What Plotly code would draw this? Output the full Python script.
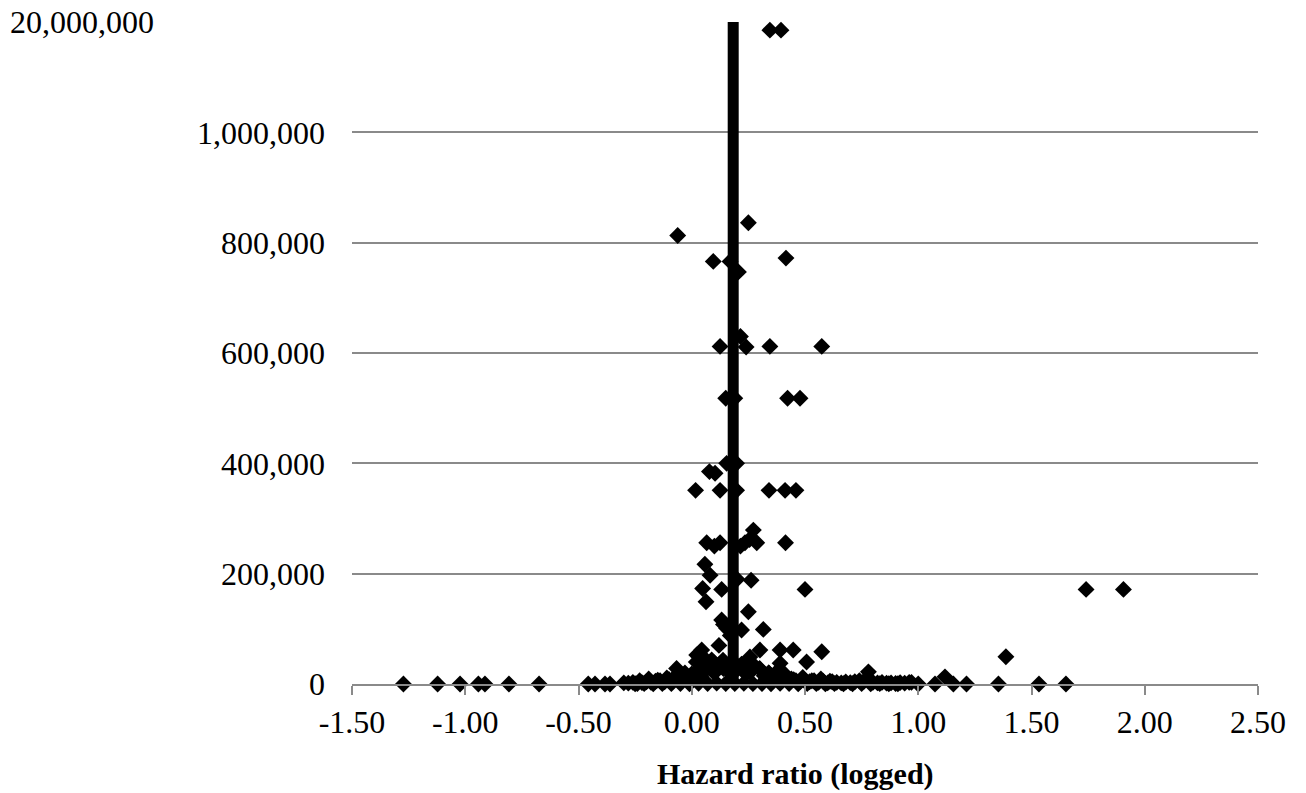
import plotly.graph_objects as go

# ---------------- data ----------------
# log hazard ratio of each estimate
hr_logged = [
    0.345, 0.394,
    -0.062, 0.250, 0.095, 0.169, 0.206, 0.416,
    0.125, 0.215, 0.240, 0.345, 0.574,
    0.150, 0.190, 0.423, 0.478,
    0.154, 0.198, 0.078, 0.103,
    0.017, 0.125, 0.198, 0.341, 0.412, 0.460,
    0.272, 0.255, 0.066, 0.100, 0.125, 0.235, 0.287, 0.414, 0.215,
    0.058, 0.081, 0.048, 0.132, 0.063, 0.262, 0.500, 0.200,
    0.250, 0.132, 0.154, 0.316, 0.220, 0.140,
    0.301, 0.390, 0.448, 0.574, 0.507, 0.390, 0.044, 0.022, 0.088, -0.067, 0.257, 0.138,
    1.741, 1.906, 1.387,
    -1.273, -1.122, -1.023, -0.942, -0.913, -0.807, -0.674, -0.457, -0.427, -0.383, -0.361,
    1.074, 1.118, 1.155, 1.213, 1.354, 1.533, 1.652, 0.780, 0.970, 1.000,
    -0.30, -0.28, -0.26, -0.24, -0.22, -0.20, -0.18, -0.16, -0.14, -0.12,
    -0.10, -0.08, -0.06, -0.04, -0.02, 0.00, 0.02, 0.04, 0.06, 0.08,
    0.10, 0.12, 0.14, 0.16, 0.20, 0.22, 0.24, 0.26, 0.28, 0.30,
    0.32, 0.34, 0.36, 0.38, 0.40, 0.42, 0.44, 0.46, 0.48, 0.50,
    0.52, 0.54, 0.56, 0.58, 0.60, 0.62, 0.64, 0.66, 0.68, 0.70,
    0.72, 0.74, 0.76, 0.80, 0.82, 0.84, 0.86, 0.88, 0.90, 0.92,
    0.94, 0.96,
    -0.25, -0.21, -0.17, -0.13, -0.09, -0.05, -0.01, 0.03, 0.07, 0.11,
    0.15, 0.19, 0.23, 0.27, 0.31, 0.35, 0.39, 0.43, 0.47, 0.51,
    0.55, 0.59, 0.63, 0.67, 0.71, 0.75, 0.79, 0.83, 0.87, 0.91,
    0.02, 0.06, 0.10, 0.14, 0.18, 0.22, 0.26, 0.30, 0.34, 0.38, 0.12, 0.17,
    -0.23, -0.19, -0.15, -0.11, -0.07, -0.03, 0.01, 0.05, 0.09, 0.13,
    0.33, 0.37, 0.41, 0.45, 0.49, 0.53, 0.57, 0.61,
]

# weight (precision) of each estimate
weight = [
    18600000, 18600000,
    813000, 836000, 766000, 766000, 747000, 772000,
    612000, 630000, 611000, 612000, 612000,
    518000, 518000, 518000, 518000,
    400000, 400000, 385000, 382000,
    351000, 351000, 351000, 351000, 351000, 351000,
    279000, 262000, 256000, 250000, 256000, 256000, 256000, 256000, 250000,
    217000, 197000, 173000, 171500, 149000, 188000, 171500, 190000,
    131000, 116000, 101000, 99000, 98000, 108000,
    61600, 61600, 61600, 58500, 40000, 37500, 61600, 52500, 43500, 28000, 49000, 43000,
    171500, 171500, 49500,
    0, 0, 0, 0, 0, 0, 0, 0, 0, 0, 0,
    0, 13000, 0, 0, 0, 0, 0, 22000, 3000, 0,
    2000, 1500, 3000, 1000, 2500, 4000, 3000, 5000, 6000, 4000,
    8000, 10000, 12000, 15000, 9000, 18000, 22000, 14000, 25000, 30000,
    20000, 35000, 28000, 24000, 26000, 30000, 18000, 22000, 32000, 27000,
    15000, 20000, 12000, 16000, 10000, 8000, 9000, 6000, 5000, 7000,
    4000, 6000, 3000, 5000, 2000, 4000, 3000, 2000, 3500, 2500,
    4000, 6000, 5000, 3000, 2000, 3000, 1500, 2000, 1000, 2500,
    1500, 3000,
    500, 800, 300, 1000, 600, 900, 400, 1200, 700, 1500,
    1000, 800, 1300, 600, 900, 500, 1100, 700, 400, 800,
    600, 300, 700, 400, 500, 800, 300, 600, 400, 500,
    40000, 45000, 38000, 30000, 42000, 36000, 33000, 28000, 20000, 24000, 70000, 88000,
    6000, 9000, 7000, 11000, 14000, 20000, 16000, 26000, 32000, 38000,
    10000, 14000, 18000, 8000, 12000, 6000, 9000, 5000,
]

pooled_estimate = 0.183          # vertical reference line (pooled log HR)

x_ticks = [-1.5, -1.0, -0.5, 0.0, 0.5, 1.0, 1.5, 2.0, 2.5]
x_tick_labels = ["-1.50", "-1.00", "-0.50", "0.00", "0.50", "1.00", "1.50", "2.00", "2.50"]
y_ticks = [0, 200000, 400000, 600000, 800000, 1000000]
y_tick_labels = ["0", "200,000", "400,000", "600,000", "800,000", "1,000,000"]
y_break_label = "20,000,000"
y_break_value = 20000000
x_title = "Hazard ratio (logged)"

# broken axis: values above 1,000,000 are compressed into the top band
BREAK_LOW = 1000000
BAND = 200000


def broken_y(v):
    if v <= BREAK_LOW:
        return v
    return BREAK_LOW + (v - BREAK_LOW) * BAND / (y_break_value - BREAK_LOW)


y_plot = [broken_y(v) for v in weight]
y_top = broken_y(y_break_value)

FONT = "Liberation Serif, Times New Roman, serif"
GRID = "#8a8a8a"

# body margin is removed (post_script), so the plot area is at x 352..1258, y 22..684
L, R, T, B = 352, 48, 22, 109
PLOT_W = 1306 - L - R
PLOT_H = 793 - T - B

fig = go.Figure()

fig.add_trace(go.Scatter(
    x=[pooled_estimate, pooled_estimate], y=[0, y_top],
    mode="lines", line=dict(color="black", width=11),
    cliponaxis=False, showlegend=False, hoverinfo="skip",
))

fig.add_trace(go.Scatter(
    x=hr_logged, y=y_plot, mode="markers",
    marker=dict(symbol="diamond", size=13, color="black"),
    cliponaxis=False, showlegend=False,
))

fig.add_annotation(
    text=y_break_label, xref="paper", yref="y",
    x=(8 - L) / PLOT_W, y=y_top, xanchor="left", yanchor="middle",
    showarrow=False, font=dict(family=FONT, size=32, color="black"),
)

fig.add_annotation(
    text="<b>" + x_title + "</b>", xref="paper", yref="paper",
    x=(795 - L) / PLOT_W, y=-(774 - 684) / PLOT_H,
    xanchor="center", yanchor="middle",
    showarrow=False, font=dict(family=FONT, size=30, color="black"),
)

fig.update_layout(
    width=1306, height=793,
    margin=dict(l=L, r=R, t=T, b=B),
    paper_bgcolor="white", plot_bgcolor="white",
    font=dict(family=FONT, size=32, color="black"),
    xaxis=dict(
        range=[-1.5, 2.5], tickvals=x_ticks, ticktext=x_tick_labels,
        showgrid=False, zeroline=False,
        showline=True, linecolor=GRID, linewidth=2,
        ticks="outside", ticklen=9, tickwidth=2, tickcolor=GRID,
    ),
    yaxis=dict(
        range=[0, y_top],
        tickvals=y_ticks + [y_top], ticktext=y_tick_labels + [""],
        showgrid=True, gridcolor=GRID, gridwidth=2,
        zeroline=False, showline=False, ticks="",
        ticklabelstandoff=26,
    ),
)

fig.write_html(
    "out.html",
    config={"displayModeBar": False},
    post_script="document.body.style.margin='0';document.body.style.overflow='hidden';",
)
